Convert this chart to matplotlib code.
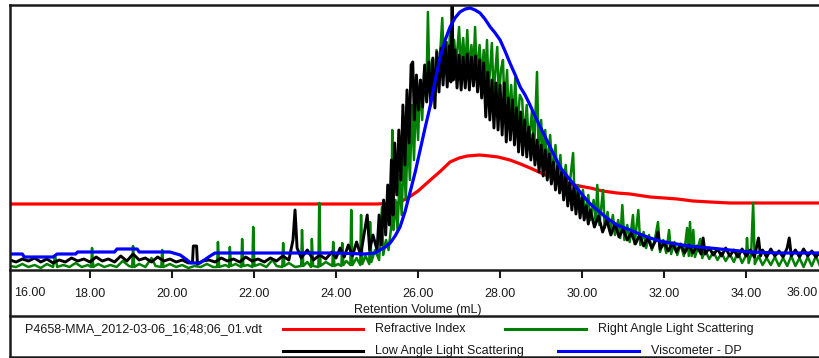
import matplotlib
matplotlib.use("Agg")
import matplotlib.pyplot as plt
from matplotlib.lines import Line2D

plt.rcParams['font.family'] = ['Liberation Sans', 'DejaVu Sans']

# ---------------- data ----------------
X_LABEL = "Retention Volume (mL)"
TICKS = [16, 18, 20, 22, 24, 26, 28, 30, 32, 34, 36]
TICK_LABELS = ["16.00", "18.00", "20.00", "22.00", "24.00", "26.00",
               "28.00", "30.00", "32.00", "34.00", "36.00"]
X_RANGE = (16.05, 35.8)
Y_RANGE = (0, 265)

FILE_NAME = "P4658-MMA_2012-03-06_16;48;06_01.vdt"
SERIES_NAMES = ["Refractive Index", "Right Angle Light Scattering",
                "Low Angle Light Scattering", "Viscometer - DP"]
SERIES_COLORS = ["#ff0000", "#008000", "#000000", "#0000ff"]

# Refractive Index (volume, response)
ri_pts = [(16.05, 66), (25.0, 66), (25.5, 67), (25.75, 72), (26.0, 79), (26.3, 90),
          (26.55, 99), (26.78, 108), (27.0, 112), (27.2, 114), (27.5, 115), (27.75, 114),
          (27.95, 113), (28.24, 110), (28.5, 106), (28.73, 102), (29.0, 97), (29.39, 90),
          (29.8, 85), (30.2, 82), (30.5, 79), (30.85, 77), (31.17, 76), (31.66, 73),
          (32.0, 72), (32.32, 71), (32.7, 69), (33.12, 68), (33.6, 67), (34.1, 67), (35.8, 67)]

# Right Angle Light Scattering
rals_pts = [
    (16.05, 4), (16.2, 3), (16.35, 6), (16.5, 3), (16.65, 5), (16.8, 2), (16.95, 6), (17.1, 3),
    (17.15, 14), (17.2, 3), (17.35, 5), (17.5, 3), (17.65, 7), (17.8, 3), (17.95, 5), (18.03, 3),
    (18.05, 22), (18.08, 3), (18.2, 6), (18.35, 3), (18.5, 5), (18.65, 3), (18.8, 9), (18.95, 4),
    (19.03, 3), (19.05, 24), (19.08, 3), (19.2, 6), (19.35, 3), (19.5, 12), (19.6, 4), (19.74, 3),
    (19.76, 20), (19.79, 3), (19.95, 6), (20.1, 3), (20.25, 5), (20.4, 2), (20.55, 4), (20.7, 3),
    (20.85, 6), (21.0, 3), (21.1, 3), (21.12, 28), (21.15, 3), (21.3, 5), (21.39, 3), (21.41, 23),
    (21.44, 4), (21.55, 6), (21.69, 3), (21.71, 31), (21.74, 4), (21.85, 5), (21.96, 3), (21.98, 43),
    (22.01, 4), (22.15, 6), (22.3, 3), (22.45, 10), (22.55, 4), (22.69, 3), (22.71, 27), (22.74, 4),
    (22.85, 7), (23.0, 3), (23.15, 4), (23.17, 40), (23.2, 4), (23.3, 8), (23.39, 3), (23.41, 31),
    (23.44, 4), (23.57, 3), (23.59, 67), (23.62, 4), (23.75, 8), (23.91, 4), (23.93, 28), (23.96, 4),
    (24.05, 6), (24.13, 4), (24.15, 27), (24.18, 5), (24.25, 9), (24.35, 5), (24.37, 60), (24.4, 5),
    (24.5, 12), (24.59, 5), (24.61, 55), (24.64, 6), (24.72, 14), (24.81, 6), (24.83, 48), (24.86, 8),
    (24.95, 20), (25.05, 10), (25.12, 63), (25.15, 15), (25.22, 30), (25.28, 20), (25.35, 45),
    (25.37, 140), (25.4, 40), (25.45, 70), (25.5, 40), (25.55, 95), (25.6, 55), (25.65, 120),
    (25.7, 70), (25.75, 140), (25.8, 90), (25.85, 165), (25.9, 110), (25.95, 175), (26.0, 130),
    (26.05, 190), (26.1, 150), (26.15, 200), (26.2, 170), (26.24, 258), (26.28, 180), (26.34, 210),
    (26.4, 185), (26.45, 220), (26.5, 190), (26.55, 225), (26.59, 252), (26.63, 200), (26.7, 228),
    (26.74, 195), (26.78, 242), (26.82, 200), (26.88, 230), (26.93, 205), (27.0, 243), (27.04, 205),
    (27.1, 232), (27.15, 200), (27.2, 240), (27.25, 195), (27.3, 225), (27.35, 200), (27.39, 243),
    (27.43, 195), (27.5, 225), (27.55, 190), (27.6, 220), (27.64, 185), (27.68, 230), (27.72, 180),
    (27.8, 227), (27.84, 175), (27.93, 223), (27.97, 170), (28.02, 200), (28.07, 210), (28.11, 160),
    (28.17, 200), (28.21, 150), (28.27, 185), (28.32, 145), (28.37, 192), (28.42, 140), (28.48, 175),
    (28.54, 170), (28.58, 130), (28.65, 165), (28.7, 125), (28.78, 160), (28.83, 120), (28.9, 198),
    (28.94, 115), (29.0, 150), (29.05, 110), (29.1, 140), (29.15, 100), (29.22, 135), (29.28, 95),
    (29.35, 125), (29.4, 90), (29.47, 115), (29.52, 80), (29.6, 105), (29.66, 72), (29.72, 95),
    (29.78, 117), (29.82, 68), (29.9, 85), (29.95, 62), (30.02, 80), (30.08, 55), (30.15, 75),
    (30.2, 50), (30.28, 70), (30.33, 48), (30.37, 85), (30.42, 45), (30.51, 80), (30.55, 42),
    (30.62, 58), (30.68, 38), (30.75, 55), (30.8, 35), (30.88, 50), (30.93, 32), (30.98, 65),
    (31.03, 30), (31.1, 45), (31.16, 28), (31.24, 55), (31.28, 26), (31.37, 60), (31.42, 25),
    (31.5, 38), (31.56, 22), (31.63, 35), (31.7, 20), (31.78, 32), (31.85, 48), (31.9, 18),
    (31.98, 30), (32.05, 17), (32.12, 40), (32.17, 16), (32.25, 28), (32.32, 15), (32.4, 26),
    (32.48, 14), (32.56, 42), (32.6, 14), (32.63, 48), (32.67, 14), (32.71, 40), (32.75, 13),
    (32.82, 22), (32.88, 31), (32.93, 12), (33.0, 20), (33.1, 11), (33.2, 18), (33.3, 10),
    (33.4, 17), (33.5, 9), (33.6, 16), (33.7, 8), (33.8, 18), (33.9, 7), (34.0, 15), (34.02, 32),
    (34.06, 7), (34.12, 15), (34.17, 67), (34.21, 6), (34.3, 14), (34.4, 5), (34.5, 12), (34.6, 5),
    (34.7, 13), (34.8, 4), (34.9, 12), (35.0, 4), (35.1, 14), (35.2, 4), (35.3, 12), (35.4, 3),
    (35.5, 13), (35.6, 4), (35.7, 14), (35.8, 4)]

# Low Angle Light Scattering
lals_pts = [
    (16.05, 10), (16.2, 8), (16.35, 11), (16.5, 9), (16.65, 12), (16.8, 8), (16.95, 11), (17.1, 7),
    (17.25, 10), (17.4, 8), (17.55, 12), (17.7, 9), (17.85, 11), (18.0, 8), (18.15, 13), (18.3, 9),
    (18.45, 11), (18.6, 8), (18.75, 14), (18.9, 9), (19.05, 16), (19.2, 10), (19.35, 12), (19.5, 8),
    (19.65, 13), (19.8, 9), (19.95, 11), (20.1, 8), (20.25, 10), (20.4, 7), (20.5, 8), (20.52, 24),
    (20.6, 24), (20.62, 6), (20.75, 9), (20.9, 10), (21.05, 8), (21.2, 12), (21.35, 9), (21.5, 11),
    (21.65, 8), (21.8, 13), (21.95, 9), (22.1, 11), (22.25, 8), (22.4, 12), (22.55, 9), (22.7, 14),
    (22.85, 10), (22.95, 30), (23.0, 60), (23.05, 22), (23.15, 12), (23.3, 20), (23.45, 10),
    (23.6, 15), (23.75, 11), (23.9, 18), (24.0, 12), (24.1, 22), (24.2, 13), (24.3, 25), (24.4, 14),
    (24.5, 28), (24.6, 15), (24.7, 40), (24.76, 55), (24.82, 20), (24.9, 35), (25.0, 20), (25.05, 55),
    (25.1, 25), (25.16, 70), (25.21, 35), (25.26, 85), (25.3, 45), (25.35, 110), (25.39, 55),
    (25.43, 127), (25.48, 75), (25.53, 140), (25.58, 90), (25.63, 165), (25.68, 105), (25.73, 180),
    (25.78, 127), (25.83, 205), (25.87, 208), (25.91, 150), (25.96, 195), (26.01, 160),
    (26.06, 190), (26.11, 163), (26.16, 205), (26.21, 168), (26.26, 208), (26.31, 165),
    (26.36, 212), (26.41, 162), (26.46, 218), (26.51, 178), (26.56, 222), (26.61, 185),
    (26.66, 228), (26.71, 183), (26.76, 224), (26.8, 188), (26.83, 265), (26.86, 190),
    (26.9, 220), (26.95, 182), (27.0, 215), (27.05, 180), (27.1, 213), (27.15, 182), (27.2, 216),
    (27.25, 180), (27.3, 213), (27.35, 184), (27.4, 214), (27.45, 178), (27.5, 210), (27.55, 172),
    (27.6, 207), (27.65, 153), (27.7, 198), (27.75, 150), (27.8, 190), (27.85, 142), (27.9, 187),
    (27.95, 140), (28.0, 185), (28.05, 135), (28.1, 187), (28.15, 128), (28.2, 172), (28.25, 130),
    (28.3, 170), (28.35, 125), (28.4, 162), (28.45, 118), (28.5, 158), (28.55, 115), (28.6, 150),
    (28.65, 113), (28.7, 143), (28.75, 110), (28.8, 136), (28.85, 105), (28.9, 130), (28.95, 98),
    (29.0, 125), (29.05, 94), (29.1, 120), (29.15, 90), (29.2, 116), (29.25, 86), (29.3, 108),
    (29.35, 80), (29.4, 104), (29.45, 77), (29.5, 98), (29.55, 70), (29.6, 94), (29.65, 64),
    (29.7, 88), (29.75, 60), (29.8, 84), (29.85, 56), (29.9, 78), (29.95, 52), (30.0, 72),
    (30.05, 50), (30.1, 64), (30.15, 46), (30.2, 60), (30.3, 43), (30.4, 54), (30.5, 38),
    (30.6, 50), (30.7, 35), (30.8, 46), (30.9, 33), (31.0, 41), (31.1, 30), (31.2, 37), (31.3, 26),
    (31.4, 35), (31.5, 24), (31.6, 32), (31.7, 22), (31.8, 30), (31.85, 38), (31.9, 21), (32.0, 27),
    (32.1, 19), (32.2, 27), (32.3, 18), (32.4, 26), (32.5, 17), (32.6, 25), (32.7, 17), (32.8, 24),
    (32.9, 16), (32.95, 32), (33.0, 16), (33.1, 22), (33.2, 15), (33.3, 21), (33.4, 14), (33.5, 22),
    (33.6, 14), (33.7, 20), (33.8, 13), (33.9, 21), (34.0, 14), (34.1, 20), (34.2, 13), (34.3, 32),
    (34.35, 14), (34.4, 20), (34.5, 13), (34.6, 21), (34.7, 14), (34.8, 19), (34.9, 13), (35.0, 22),
    (35.05, 32), (35.1, 14), (35.2, 20), (35.3, 13), (35.4, 21), (35.5, 14), (35.6, 19),
    (35.7, 13), (35.8, 18)]

# Viscometer - DP
dp_pts = [(16.05, 16), (16.35, 16), (16.4, 13), (17.1, 13), (17.2, 16), (17.65, 16), (17.7, 18),
          (18.6, 18), (18.66, 21), (19.15, 21), (19.2, 18), (19.95, 18), (20.2, 15), (20.37, 10),
          (20.45, 7), (20.68, 7), (20.93, 14), (21.05, 17), (22.0, 17), (23.0, 17), (24.0, 17),
          (24.7, 16), (24.95, 17), (25.07, 20), (25.2, 23), (25.32, 27), (25.44, 34), (25.56, 43),
          (25.68, 58), (25.80, 77), (25.93, 98), (26.05, 120), (26.17, 142), (26.29, 163),
          (26.42, 190), (26.54, 213), (26.66, 230), (26.78, 243), (26.9, 252), (27.02, 258),
          (27.15, 261), (27.27, 262), (27.39, 260), (27.51, 257), (27.63, 251), (27.76, 243),
          (27.88, 237), (28.0, 230), (28.12, 219), (28.24, 207), (28.37, 195), (28.49, 183),
          (28.61, 175), (28.73, 165), (28.85, 154), (28.98, 143), (29.1, 133), (29.22, 123),
          (29.34, 113), (29.46, 103), (29.59, 96), (29.71, 90), (29.83, 84), (29.95, 78),
          (30.15, 68), (30.37, 60), (30.6, 52), (30.85, 45), (31.17, 40), (31.4, 36), (31.66, 32),
          (31.9, 29), (32.15, 27), (32.6, 24), (33.12, 22), (33.6, 20), (34.1, 18), (34.8, 17),
          (35.8, 17)]

# ---------------- figure ----------------
W, H = 820, 358
fig = plt.figure(figsize=(W / 100, H / 100), dpi=100)
FS = 9.0


def fx(px):
    return px / W


def fy(py):
    return 1 - py / H


ax = fig.add_axes([fx(10), fy(270), fx(820) - fx(10), fy(5) - fy(270)])
ax.set_xlim(*X_RANGE)
ax.set_ylim(*Y_RANGE)

series = [(ri_pts, 2.3), (rals_pts, 1.8), (lals_pts, 2.1), (dp_pts, 2.3)]
for (pts, lw), c in zip(series, SERIES_COLORS):
    xs, ys = zip(*pts)
    ax.plot(xs, ys, color=c, lw=lw)

frame_c = "#1a1a1a"
for s in ["top", "left", "bottom"]:
    ax.spines[s].set_linewidth(1.8)
    ax.spines[s].set_color(frame_c)
ax.spines["right"].set_visible(False)
ax.set_yticks([])

inside = [t for t in TICKS if X_RANGE[0] <= t <= X_RANGE[1]]
ax.set_xticks(inside)
ax.set_xticklabels([TICK_LABELS[TICKS.index(t)] for t in inside])
ax.tick_params(axis='x', direction='out', length=6, width=1.5, pad=7,
               labelsize=FS, colors=frame_c)

# edge tick labels whose ticks fall just outside the visible range: clamp them inside
for t, lab in zip(TICKS, TICK_LABELS):
    if t < X_RANGE[0]:
        fig.text(fx(30), fy(293), lab, ha='center', va='center', fontsize=FS, color=frame_c)
    elif t > X_RANGE[1]:
        fig.text(fx(802), fy(293), lab, ha='center', va='center', fontsize=FS, color=frame_c)

fig.text(fx(418), fy(310), X_LABEL, ha='center', va='center', fontsize=FS, color=frame_c)


def hline(py, x0=10, x1=820, lw=1.8):
    fig.add_artist(Line2D([fx(x0), fx(x1)], [fy(py), fy(py)], color=frame_c, lw=lw))


def vline(px, y0, y1, lw=1.8):
    fig.add_artist(Line2D([fx(px), fx(px)], [fy(y0), fy(y1)], color=frame_c, lw=lw))


vline(10, 270, 358)
hline(316)
hline(357)

# legend
fig.text(fx(25), fy(329), FILE_NAME, ha='left', va='center', fontsize=FS, color=frame_c)
legend_pos = [(283, 363, 375, 329), (505, 586, 598, 329), (283, 363, 375, 351), (558, 639, 651, 351)]
for name, c, (x0, x1, tx, py) in zip(SERIES_NAMES, SERIES_COLORS, legend_pos):
    fig.add_artist(Line2D([fx(x0), fx(x1)], [fy(py), fy(py)], color=c, lw=2.2))
    fig.text(fx(tx), fy(py), name, ha='left', va='center', fontsize=FS, color=frame_c)

fig.savefig("out.png", dpi=100)
